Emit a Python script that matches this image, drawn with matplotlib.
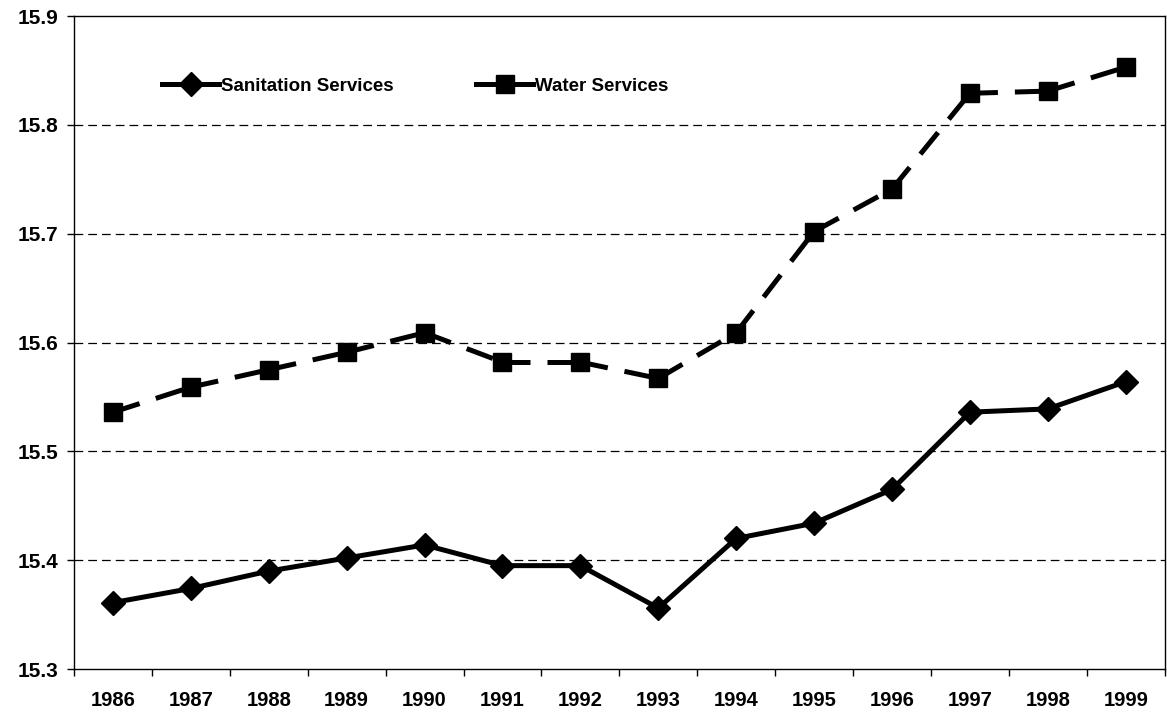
import numpy as np
import matplotlib
matplotlib.use("Agg")
import matplotlib.pyplot as plt
from matplotlib.lines import Line2D
from matplotlib.ticker import FixedLocator, NullFormatter, FixedFormatter

years = ["1986", "1987", "1988", "1989", "1990", "1991", "1992",
         "1993", "1994", "1995", "1996", "1997", "1998", "1999"]
sanitation = [15.361, 15.374, 15.390, 15.402, 15.414, 15.395, 15.395,
              15.356, 15.420, 15.434, 15.465, 15.536, 15.539, 15.564]
water = [15.536, 15.559, 15.575, 15.591, 15.609, 15.582, 15.582,
         15.567, 15.609, 15.702, 15.741, 15.829, 15.831, 15.853]
y_ticks = [15.3, 15.4, 15.5, 15.6, 15.7, 15.8, 15.9]
series_names = ["Sanitation Services", "Water Services"]

plt.rcParams['font.family'] = ['Liberation Sans', 'DejaVu Sans']
plt.rcParams['font.weight'] = 'bold'

fig = plt.figure(figsize=(11.67, 7.15), dpi=100)
ax = fig.add_axes([0.0634, 0.0643, 0.998 - 0.0634, 0.9776 - 0.0643])

x = np.arange(len(years))
LW = 3.6
DMS = 12.5
ax.plot(x, sanitation, color='black', lw=LW, marker='D', markersize=DMS,
        zorder=3)
# Water: dash pattern restarts on each segment (as in the original)
for i in range(len(x) - 1):
    ax.plot(x[i:i + 2], water[i:i + 2], color='black', lw=LW,
            linestyle=(0, (5.6, 3.4)), zorder=3)
ax.plot(x, water, color='black', lw=0, marker='s', markersize=13, zorder=4)

ax.set_xlim(-0.5, len(years) - 0.5)
ax.set_ylim(y_ticks[0], y_ticks[-1])

ax.yaxis.set_major_locator(FixedLocator(y_ticks))
ax.set_yticklabels([f"{v:.1f}" for v in y_ticks])
ax.tick_params(axis='y', direction='out', length=5, width=1, pad=6,
               labelsize=15)

ax.xaxis.set_major_locator(FixedLocator(np.arange(len(years) + 1) - 0.5))
ax.xaxis.set_major_formatter(NullFormatter())
ax.xaxis.set_minor_locator(FixedLocator(x))
ax.xaxis.set_minor_formatter(FixedFormatter(years))
ax.tick_params(axis='x', which='major', direction='out', length=5, width=1)
ax.tick_params(axis='x', which='minor', length=0, pad=16, labelsize=14.5)

for yv in y_ticks[1:-1]:
    ax.axhline(yv, color='black', lw=0.9, linestyle=(0, (7, 4)), zorder=1)

for s in ax.spines.values():
    s.set_color('black')
    s.set_linewidth(1.0)

handles = [
    Line2D([], [], color='black', lw=LW, marker='D', markersize=DMS),
    Line2D([], [], color='black', lw=LW, marker='s', markersize=13),
]
leg = ax.legend(handles, series_names, loc='upper left',
                bbox_to_anchor=(0.0807, 0.906), ncol=2, borderaxespad=0,
                borderpad=0, frameon=False, fontsize=13.5, handlelength=3.05,
                handletextpad=0.1, columnspacing=4.4)
for t in leg.get_texts():
    t.set_fontweight('bold')

fig.savefig('out.png', dpi=100)
